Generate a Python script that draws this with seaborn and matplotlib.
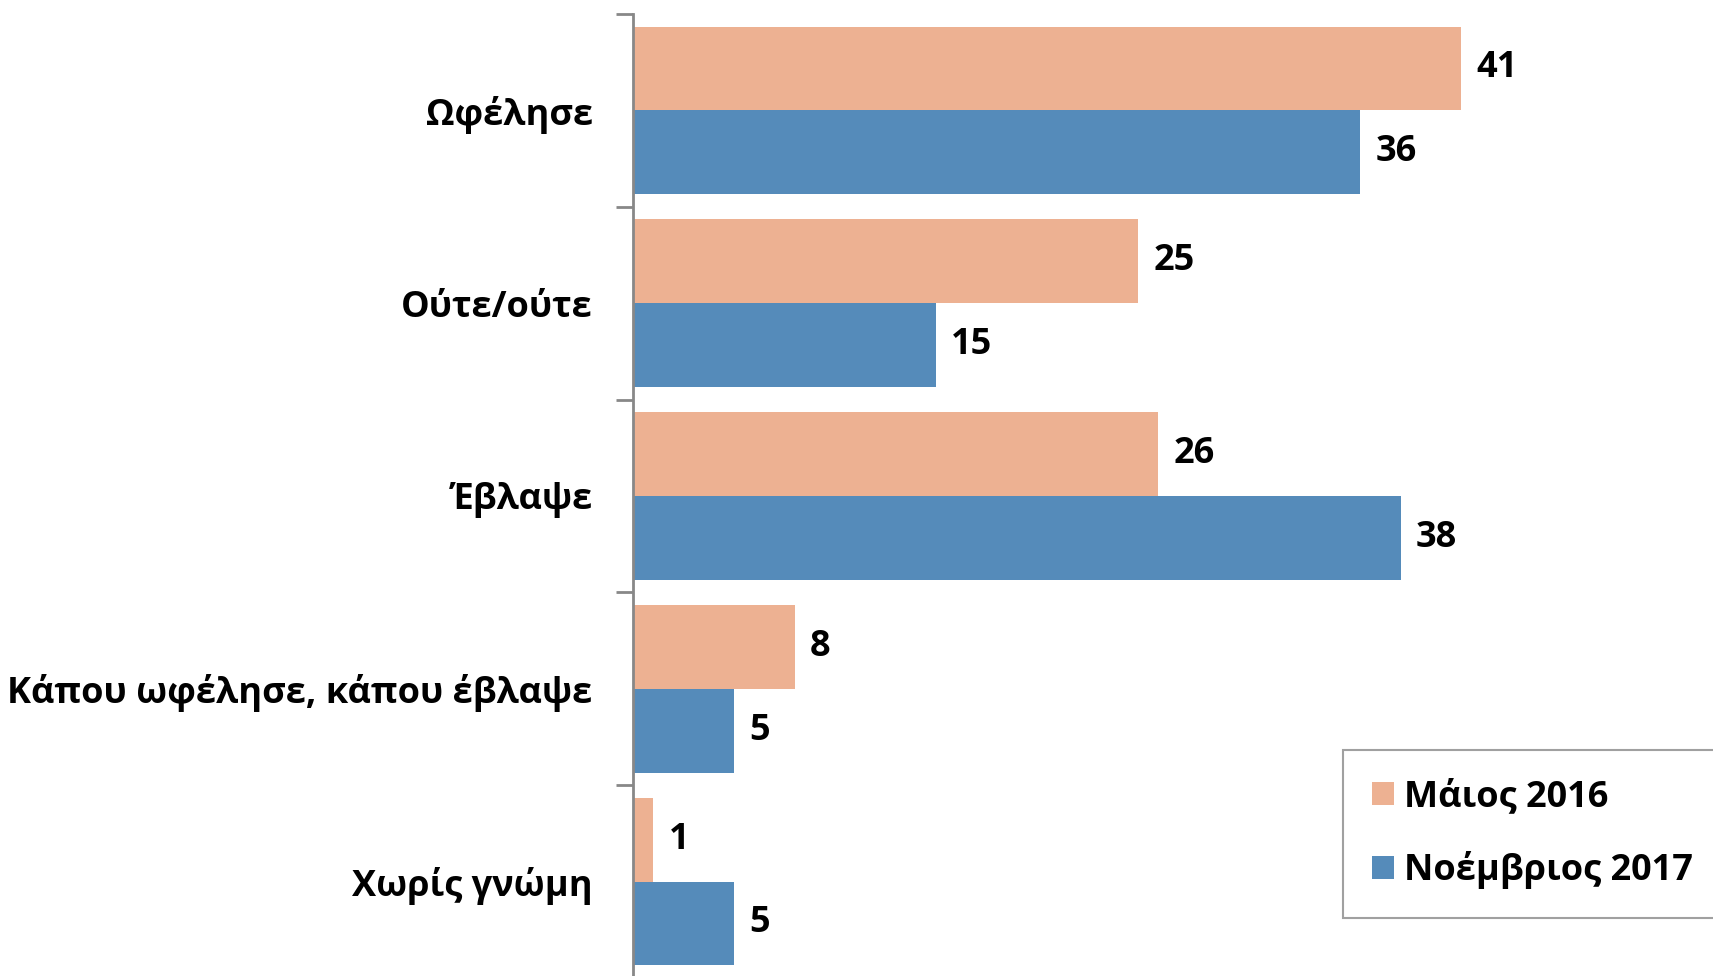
import pandas as pd
import seaborn as sns
import matplotlib.pyplot as plt
from matplotlib.ticker import FixedLocator

categories = ["Ωφέλησε", "Ούτε/ούτε", "Έβλαψε", "Κάπου ωφέλησε, κάπου έβλαψε", "Χωρίς γνώμη"]
series = ["Μάιος 2016", "Νοέμβριος 2017"]
may_2016 = [41, 25, 26, 8, 1]
nov_2017 = [36, 15, 38, 5, 5]
colors = ["#EDB192", "#558BBA"]

df = pd.DataFrame({
    "cat": categories * 2,
    "period": [series[0]] * len(categories) + [series[1]] * len(categories),
    "value": may_2016 + nov_2017,
})

sns.set_theme(style="white")
plt.rcParams["font.family"] = ["Open Sans", "DejaVu Sans"]
plt.rcParams["font.weight"] = "bold"
plt.rcParams["text.color"] = "black"
plt.rcParams["ytick.labelcolor"] = "black"

fig = plt.figure(figsize=(17.13, 9.76), dpi=100)
ax = fig.add_axes([633 / 1713, -0.002, 909 / 1713, 1 - 14 / 976 + 0.002])

sns.barplot(data=df, y="cat", x="value", hue="period", order=categories,
            hue_order=series, palette=colors, orient="h", width=0.87,
            gap=0, edgecolor="none", saturation=1, ax=ax)

for cont in ax.containers:
    ax.bar_label(cont, padding=11, fontsize=26, fontweight="bold", color="black")

ax.set_xlim(0, 45)
ax.set_ylim(len(categories) - 0.5, -0.5)
ax.set_xlabel("")
ax.set_ylabel("")
ax.set_xticks([])

for s in ["top", "right", "bottom"]:
    ax.spines[s].set_visible(False)
ax.spines["left"].set_color("#888888")
ax.spines["left"].set_linewidth(2)

ax.yaxis.set_minor_locator(FixedLocator([i - 0.5 for i in range(len(categories) + 1)]))
ax.tick_params(axis="y", which="major", length=0, pad=29, labelsize=26)
ax.tick_params(axis="y", which="minor", length=12, width=2, color="#888888", left=True)
for lbl in ax.get_yticklabels():
    lbl.set_fontweight("bold")
    lbl.set_color("black")

leg = ax.legend(loc="upper left", bbox_to_anchor=(1343 / 1713, 1 - 750 / 976),
                bbox_transform=fig.transFigure, fontsize=26, frameon=True,
                fancybox=False, handlelength=0.6, handleheight=0.6,
                handletextpad=0.3, labelspacing=1.0, borderpad=0.8,
                borderaxespad=0)
leg.get_frame().set_edgecolor("#888888")
leg.get_frame().set_linewidth(1.5)
for t in leg.get_texts():
    t.set_fontweight("bold")
    t.set_color("black")

fig.savefig("out.png", dpi=100)
